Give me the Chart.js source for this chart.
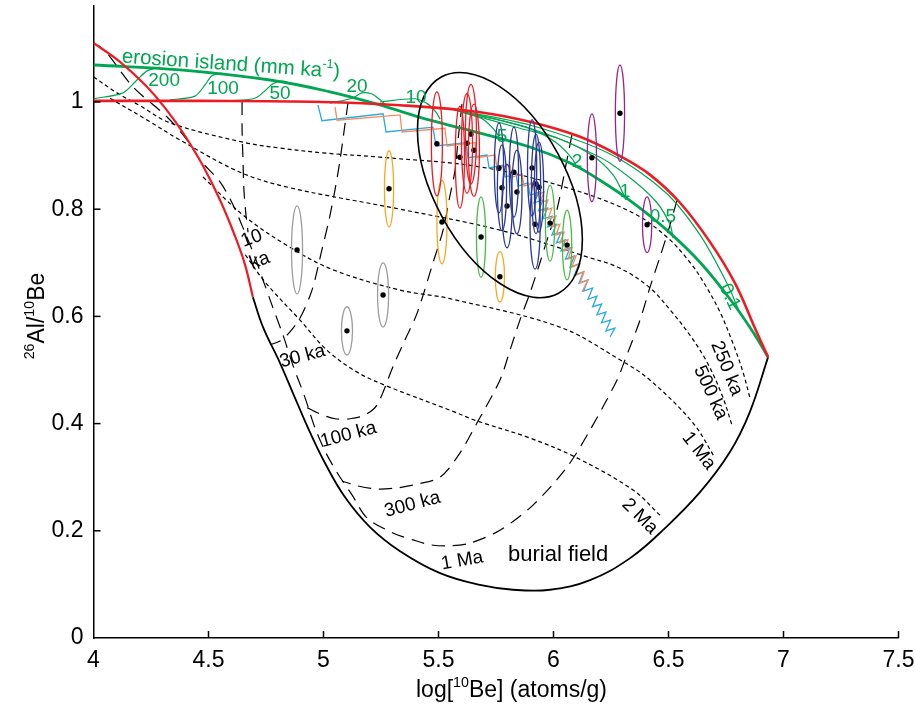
<!DOCTYPE html>
<html>
<head>
<meta charset="utf-8">
<script src="https://cdn.jsdelivr.net/npm/chart.js@4.4.0/dist/chart.umd.min.js"></script>
<style>
  html, body { margin: 0; padding: 0; background: #fff; }
</style>
</head>
<body>
<canvas id="bananaPlot" width="915" height="709"></canvas>
<script>
// Axis ticks
const xTickValues = [4, 4.5, 5, 5.5, 6, 6.5, 7, 7.5];
const yTickValues = [0, 0.2, 0.4, 0.6, 0.8, 1];

// Envelope curves [log10Be, 26Al/10Be]
const simpleExposure = [[4.0,1.002],[4.463,1.002],[4.989,1.0],[5.333,0.994],[5.68,0.981],[5.897,0.963],[6.115,0.935],[6.289,0.899],[6.42,0.864],[6.55,0.812],[6.68,0.739],[6.789,0.662],[6.876,0.578],[6.933,0.524]];
const burialLimit = [[4.0,1.11],[4.115,1.075],[4.224,1.032],[4.311,0.989],[4.398,0.937],[4.476,0.881],[4.55,0.817],[4.615,0.75],[4.659,0.696],[4.693,0.636]];
const burialFloor = [[4.693,0.636],[4.737,0.58],[4.811,0.513],[4.876,0.448],[4.941,0.384],[5.007,0.326],[5.093,0.263],[5.202,0.207],[5.333,0.162],[5.507,0.121],[5.68,0.099],[5.824,0.09],[5.985,0.09],[6.159,0.108],[6.333,0.149],[6.485,0.205],[6.637,0.272],[6.767,0.347],[6.854,0.422],[6.933,0.524]];
const steadyErosion = [[4.0,1.069],[4.376,1.06],[4.767,1.041],[5.028,1.019],[5.233,0.996],[5.463,0.966],[5.68,0.942],[5.897,0.916],[6.072,0.886],[6.202,0.854],[6.346,0.812],[6.493,0.761],[6.637,0.701],[6.78,0.625],[6.876,0.565],[6.933,0.524]];

// Transient erosion tracks (mm/ka)
const rate200 = [[4.0,1.006],[4.128,1.017],[4.189,1.041],[4.233,1.058],[4.289,1.065]];
const rate100 = [[4.333,1.004],[4.441,1.011],[4.485,1.032],[4.515,1.049],[4.559,1.054]];
const rate50 = [[4.593,1.002],[4.702,1.007],[4.746,1.021],[4.78,1.034],[4.82,1.039],[4.854,1.035]];
const rate20 = [[5.028,0.998],[5.124,1.007],[5.167,1.017],[5.211,1.015],[5.246,1.004],[5.267,0.996]];
const rate10 = [[5.246,1.0],[5.398,1.006],[5.454,0.996],[5.489,0.981],[5.507,0.968]];
const rate5 = [[5.57,0.985],[5.624,0.978],[5.693,0.968],[5.754,0.942],[5.767,0.927]];
const rate2 = [[5.57,0.985],[5.767,0.966],[5.911,0.948],[6.015,0.923],[6.085,0.892],[6.098,0.877]];
const rate1 = [[5.57,0.985],[5.854,0.951],[6.028,0.931],[6.172,0.899],[6.259,0.864],[6.302,0.83],[6.315,0.817]];
const rate05 = [[5.57,0.985],[5.897,0.951],[6.202,0.897],[6.346,0.854],[6.45,0.812],[6.507,0.771],[6.52,0.746]];
const rate01 = [[5.57,0.985],[5.897,0.957],[6.246,0.903],[6.485,0.832],[6.637,0.752],[6.754,0.662],[6.811,0.606]];

// Burial isochrons (short dash)
const iso250ka = [[4.0,1.047],[4.102,1.017],[4.202,0.993],[4.333,0.961],[4.65,0.925],[4.811,0.914],[4.998,0.905],[5.246,0.897],[5.68,0.879],[6.059,0.84],[6.346,0.793],[6.493,0.748],[6.593,0.701],[6.659,0.659],[6.724,0.608],[6.78,0.55],[6.824,0.496],[6.854,0.448]];
const iso500ka = [[4.072,1.007],[4.246,0.963],[4.376,0.929],[4.637,0.869],[4.854,0.84],[5.333,0.8],[5.767,0.761],[6.146,0.711],[6.289,0.69],[6.42,0.653],[6.515,0.608],[6.593,0.565],[6.667,0.515],[6.733,0.453],[6.776,0.397]];
const iso1Ma = [[4.476,0.86],[4.65,0.789],[4.854,0.729],[5.041,0.687],[5.333,0.649],[5.55,0.633],[6.028,0.58],[6.289,0.519],[6.42,0.481],[6.607,0.401],[6.702,0.336]];
const iso2Ma = [[4.66,0.715],[4.746,0.664],[4.898,0.593],[5.015,0.537],[5.146,0.496],[5.276,0.47],[5.55,0.425],[5.667,0.405],[5.898,0.373],[6.102,0.336],[6.346,0.276],[6.463,0.229]];

// Exposure-time lines (long dash)
const exp10ka = [[4.646,1.0],[4.646,0.948],[4.65,0.892],[4.654,0.836],[4.663,0.789],[4.672,0.757]];
const exp30ka = [[5.107,1.0],[5.093,0.957],[5.072,0.892],[5.05,0.836],[5.024,0.78],[4.993,0.724],[4.95,0.649],[4.898,0.597],[4.854,0.571],[4.811,0.554],[4.767,0.547]];
const exp100ka = [[5.602,0.996],[5.585,0.929],[5.572,0.873],[5.546,0.817],[5.52,0.761],[5.476,0.7],[5.407,0.606],[5.354,0.556],[5.302,0.506],[5.233,0.435],[5.18,0.416],[5.115,0.409],[5.05,0.409],[4.985,0.418],[4.924,0.431]];
const exp300ka = [[6.08,0.938],[6.054,0.882],[6.015,0.799],[5.976,0.748],[5.941,0.7],[5.898,0.644],[5.854,0.593],[5.811,0.537],[5.767,0.481],[5.667,0.401],[5.593,0.345],[5.507,0.3],[5.407,0.287],[5.32,0.28],[5.233,0.278],[5.146,0.284],[5.08,0.293]];
const exp1Ma = [[6.537,0.817],[6.507,0.771],[6.463,0.711],[6.42,0.655],[6.376,0.593],[6.311,0.519],[6.276,0.481],[6.159,0.388],[6.059,0.319],[5.911,0.248],[5.767,0.201],[5.637,0.177],[5.55,0.172],[5.463,0.174],[5.389,0.183],[5.302,0.196],[5.189,0.224],[5.124,0.267],[5.063,0.306],[5.011,0.345],[4.963,0.392],[4.92,0.448],[4.867,0.509],[4.824,0.565],[4.776,0.621],[4.737,0.668],[4.698,0.715],[4.654,0.761],[4.607,0.808],[4.55,0.851],[4.463,0.892],[4.407,0.929],[4.32,0.972],[4.172,1.028],[4.059,1.091],[4.02,1.106]];

// Glacial cycle paths (burial / exposure sawtooth)
const cycleBlue = [[4.976,0.994],[4.993,0.965],[5.259,0.978],[5.272,0.944],[5.476,0.953],[5.489,0.918],[5.62,0.924],[5.628,0.896],[5.711,0.901],[5.72,0.877],[5.78,0.882],[5.789,0.86],[5.837,0.866],[5.846,0.843],[5.889,0.849],[5.898,0.826],[5.937,0.832],
  [5.915,0.812],[5.954,0.817],[5.935,0.797],[5.974,0.802],[5.954,0.782],[5.993,0.787],[5.974,0.767],[6.013,0.772],[5.993,0.752],[6.033,0.757],[6.013,0.737],[6.052,0.743],[6.033,0.722],[6.072,0.728],[6.052,0.707],[6.091,0.713],[6.072,0.692],[6.111,0.698],[6.091,0.677],[6.13,0.683],[6.111,0.662],[6.15,0.668],[6.13,0.647],[6.17,0.653],[6.15,0.632],[6.189,0.638],[6.17,0.618],[6.209,0.623],[6.189,0.603],[6.228,0.608],[6.209,0.588],[6.248,0.593],[6.228,0.573],[6.267,0.578],[6.246,0.562]];
const cycleOrange = [[5.05,0.991],[5.059,0.966],[5.333,0.976],[5.341,0.944],[5.528,0.951],[5.537,0.918],[5.659,0.924],[5.667,0.896],[5.746,0.901],[5.754,0.877],[5.811,0.882],[5.82,0.86],[5.863,0.866],[5.872,0.843],[5.911,0.849],[5.92,0.826],[5.959,0.832],
  [5.941,0.812],[5.976,0.817],[5.959,0.797],[5.993,0.802],[5.976,0.782],[6.011,0.787],[5.993,0.767],[6.028,0.772],[6.011,0.752],[6.046,0.757],[6.028,0.737],[6.063,0.743],[6.046,0.722],[6.08,0.728],[6.063,0.707],[6.098,0.713],[6.08,0.692],[6.115,0.698],[6.098,0.677],[6.133,0.683],[6.115,0.662],[6.15,0.668],[6.124,0.646]];

// Samples: [log10Be, ratio, 1-sigma log10Be, 1-sigma ratio]
const redSamples = [[5.493,0.922,0.024,0.097],[5.593,0.897,0.02,0.095],[5.624,0.923,0.024,0.093],[5.641,0.94,0.024,0.093],[5.654,0.91,0.024,0.086]];
const navySamples = [[5.763,0.877,0.02,0.084],[5.776,0.84,0.02,0.08],[5.798,0.806,0.022,0.078],[5.828,0.869,0.02,0.084],[5.841,0.832,0.022,0.078],[5.907,0.877,0.02,0.09],[5.924,0.847,0.02,0.093],[5.937,0.841,0.02,0.084],[5.92,0.772,0.022,0.084]];
const orangeSamples = [[5.285,0.838,0.02,0.071],[5.515,0.776,0.022,0.078],[5.767,0.674,0.02,0.047]];
const greenSamples = [[5.685,0.748,0.02,0.075],[5.985,0.774,0.02,0.071],[6.059,0.733,0.02,0.065]];
const purpleSamples = [[6.167,0.896,0.02,0.082],[6.289,0.979,0.02,0.09],[6.407,0.771,0.02,0.052]];
const graySamples = [[4.885,0.724,0.024,0.082],[5.259,0.64,0.024,0.06],[5.102,0.573,0.024,0.045]];

// Cluster outline: centre and two conjugate half-axes
const clusterCenter = [5.767, 0.845];
const clusterAxisA = [0.255, -0.2017];
const clusterAxisB = [-0.252, -0.0587];

const GREEN = '#00a651';
const RED = '#ed1c24';

const sampleGroups = [
  { rows: graySamples, color: '#9d9d9d' },
  { rows: orangeSamples, color: '#f7a823' },
  { rows: greenSamples, color: '#4cb848' },
  { rows: navySamples, color: '#2b3990' },
  { rows: redSamples, color: RED },
  { rows: purpleSamples, color: '#92278f' }
];

const rateLabels = [
  ['200', 4.307, 1.043, 0], ['100', 4.563, 1.028, 0], ['50', 4.811, 1.019, 0], ['20', 5.146, 1.032, 0],
  ['10', 5.402, 1.011, 0], ['5', 5.776, 0.938, 0], ['2', 6.102, 0.892, 0], ['1', 6.311, 0.836, 0],
  ['0.5', 6.476, 0.789, 0], ['0.1', 6.772, 0.638, 65]
];
const ageLabels = [
  ['10', 4.685, 0.748, -20], ['ka', 4.72, 0.707, -20], ['30 ka', 4.907, 0.528, -15],
  ['100 ka', 5.107, 0.382, -15], ['300 ka', 5.385, 0.252, -15], ['1 Ma', 5.602, 0.147, -10],
  ['250 ka', 6.759, 0.504, 68], ['500 ka', 6.689, 0.459, 65], ['1 Ma', 6.637, 0.351, 52], ['2 Ma', 6.38, 0.229, 45]
];

const pts = arr => arr.map(([x, y]) => ({ x, y }));
const line = (arr, color, width, dash, tension, order) => ({
  data: pts(arr), showLine: true, pointRadius: 0, borderColor: color, borderWidth: width,
  borderDash: dash, tension, order, fill: false
});

const FONT = '"Liberation Sans", Arial, sans-serif';

// text with optional superscript parts, centred on (x, y)
const drawRich = (ctx, parts, x, y, size, color, angle) => {
  ctx.save();
  ctx.translate(x, y);
  ctx.rotate(angle * Math.PI / 180);
  ctx.fillStyle = color;
  ctx.textBaseline = 'alphabetic';
  let w = 0;
  parts.forEach(([t, sup]) => { ctx.font = `${sup ? size * 0.62 : size}px ${FONT}`; w += ctx.measureText(t).width; });
  let cx = -w / 2;
  parts.forEach(([t, sup]) => {
    ctx.font = `${sup ? size * 0.62 : size}px ${FONT}`;
    ctx.fillText(t, cx, sup ? -size * 0.08 : size * 0.36);
    cx += ctx.measureText(t).width;
  });
  ctx.restore();
};

const ellipse = (ctx, xs, ys, c, a, b, color, width) => {
  const px = xs.getPixelForValue(c[0]), py = ys.getPixelForValue(c[1]);
  const ax = xs.getPixelForValue(c[0] + a[0]) - px, ay = ys.getPixelForValue(c[1] + a[1]) - py;
  const bx = xs.getPixelForValue(c[0] + b[0]) - px, by = ys.getPixelForValue(c[1] + b[1]) - py;
  ctx.save();
  ctx.beginPath();
  ctx.transform(ax, ay, bx, by, px, py);
  ctx.arc(0, 0, 1, 0, Math.PI * 2);
  ctx.restore();
  ctx.save();
  ctx.strokeStyle = color;
  ctx.lineWidth = width;
  ctx.stroke();
  ctx.restore();
};

const overlay = {
  id: 'overlay',
  afterDatasetsDraw(chart) {
    const { ctx, scales: { x, y } } = chart;
    sampleGroups.forEach(g => g.rows.forEach(r =>
      ellipse(ctx, x, y, [r[0], r[1]], [r[2], 0], [0, r[3]], g.color, 1.3)));
    ellipse(ctx, x, y, clusterCenter, clusterAxisA, clusterAxisB, '#000', 1.6);
  },
  afterDraw(chart) {
    const { ctx, chartArea: a, scales: { x, y } } = chart;
    // tick marks point into the plot
    ctx.save();
    ctx.strokeStyle = '#000';
    ctx.lineWidth = 1.5;
    xTickValues.slice(1).forEach(v => {
      const px = x.getPixelForValue(v);
      ctx.beginPath(); ctx.moveTo(px, a.bottom); ctx.lineTo(px, a.bottom - 7); ctx.stroke();
    });
    yTickValues.slice(1).forEach(v => {
      const py = y.getPixelForValue(v);
      ctx.beginPath(); ctx.moveTo(a.left, py); ctx.lineTo(a.left + 7, py); ctx.stroke();
    });
    ctx.restore();

    drawRich(ctx, [['erosion island (mm ka', 0], ['-1', 1], [')', 0]],
      x.getPixelForValue(4.598), y.getPixelForValue(1.073), 20.5, GREEN, 4);
    rateLabels.forEach(([t, lx, ly, rot]) =>
      drawRich(ctx, [[t, 0]], x.getPixelForValue(lx), y.getPixelForValue(ly), 19, GREEN, rot));
    ageLabels.forEach(([t, lx, ly, rot]) =>
      drawRich(ctx, [[t, 0]], x.getPixelForValue(lx), y.getPixelForValue(ly), 19, '#000', rot));
    drawRich(ctx, [['burial field', 0]], x.getPixelForValue(6.02), y.getPixelForValue(0.159), 22, '#000', 0);

    // axis titles
    drawRich(ctx, [['log[', 0], ['10', 1], ['Be] (atoms/g)', 0]], a.left + 418, 689, 23, '#000', 0);
    drawRich(ctx, [['26', 1], ['Al/', 0], ['10', 1], ['Be', 0]], 36, 316, 23, '#000', -90);
  }
};

const allSamples = [].concat(redSamples, navySamples, orangeSamples, greenSamples, purpleSamples, graySamples);

new Chart(document.getElementById('bananaPlot'), {
  type: 'scatter',
  data: {
    datasets: [
      { data: pts(allSamples), pointRadius: 2.7, pointBackgroundColor: '#000', pointBorderWidth: 0, order: 0 },
      line(simpleExposure, RED, 2.6, [], 0.4, 1),
      line(burialLimit, RED, 2.2, [], 0.4, 1),
      line(steadyErosion, GREEN, 2.8, [], 0.4, 2),
      line(rate200, GREEN, 1.2, [], 0.3, 3),
      line(rate100, GREEN, 1.2, [], 0.3, 3),
      line(rate50, GREEN, 1.2, [], 0.3, 3),
      line(rate20, GREEN, 1.2, [], 0.3, 3),
      line(rate10, GREEN, 1.2, [], 0.3, 3),
      line(rate5, GREEN, 1.2, [], 0.3, 3),
      line(rate2, GREEN, 1.2, [], 0.3, 3),
      line(rate1, GREEN, 1.2, [], 0.3, 3),
      line(rate05, GREEN, 1.2, [], 0.3, 3),
      line(rate01, GREEN, 1.2, [], 0.3, 3),
      line(burialFloor, '#000', 1.8, [], 0.4, 4),
      line(cycleOrange, '#f58d63', 1.3, [], 0, 5),
      line(cycleBlue, '#27aae1', 1.3, [], 0, 6),
      line(iso250ka, '#000', 1.2, [4, 3], 0.35, 7),
      line(iso500ka, '#000', 1.2, [4, 3], 0.35, 7),
      line(iso1Ma, '#000', 1.2, [4, 3], 0.35, 7),
      line(iso2Ma, '#000', 1.2, [4, 3], 0.35, 7),
      line(exp10ka, '#000', 1.2, [13, 8], 0.3, 7),
      line(exp30ka, '#000', 1.2, [13, 8], 0.3, 7),
      line(exp100ka, '#000', 1.2, [13, 8], 0.3, 7),
      line(exp300ka, '#000', 1.2, [13, 8], 0.3, 7),
      line(exp1Ma, '#000', 1.2, [13, 8], 0.3, 7)
    ]
  },
  options: {
    responsive: false,
    animation: false,
    layout: { padding: { top: 5.5, right: 16.5, left: 0, bottom: 0 } },
    plugins: { legend: { display: false }, tooltip: { enabled: false } },
    scales: {
      x: {
        type: 'linear', min: 4, max: 7.5,
        grid: { display: false, drawTicks: false },
        border: { display: true, color: '#000', width: 1.5 },
        ticks: { padding: 9, color: '#000', font: { family: FONT, size: 23 }, callback: v => String(+v.toFixed(2)) },
        afterBuildTicks: s => { s.ticks = xTickValues.map(v => ({ value: v })); },
        afterFit: s => { s.height = 71; s.paddingLeft = 0; s.paddingRight = 0; }
      },
      y: {
        type: 'linear', min: 0, max: 1.18,
        grid: { display: false, drawTicks: false },
        border: { display: true, color: '#000', width: 1.5 },
        ticks: { padding: 10, color: '#000', font: { family: FONT, size: 23 }, callback: v => String(+v.toFixed(2)) },
        afterBuildTicks: s => { s.ticks = yTickValues.map(v => ({ value: v })); },
        afterFit: s => { s.width = 93.5; s.paddingTop = 0; s.paddingBottom = 0; }
      }
    }
  },
  plugins: [overlay]
});
</script>
</body>
</html>
